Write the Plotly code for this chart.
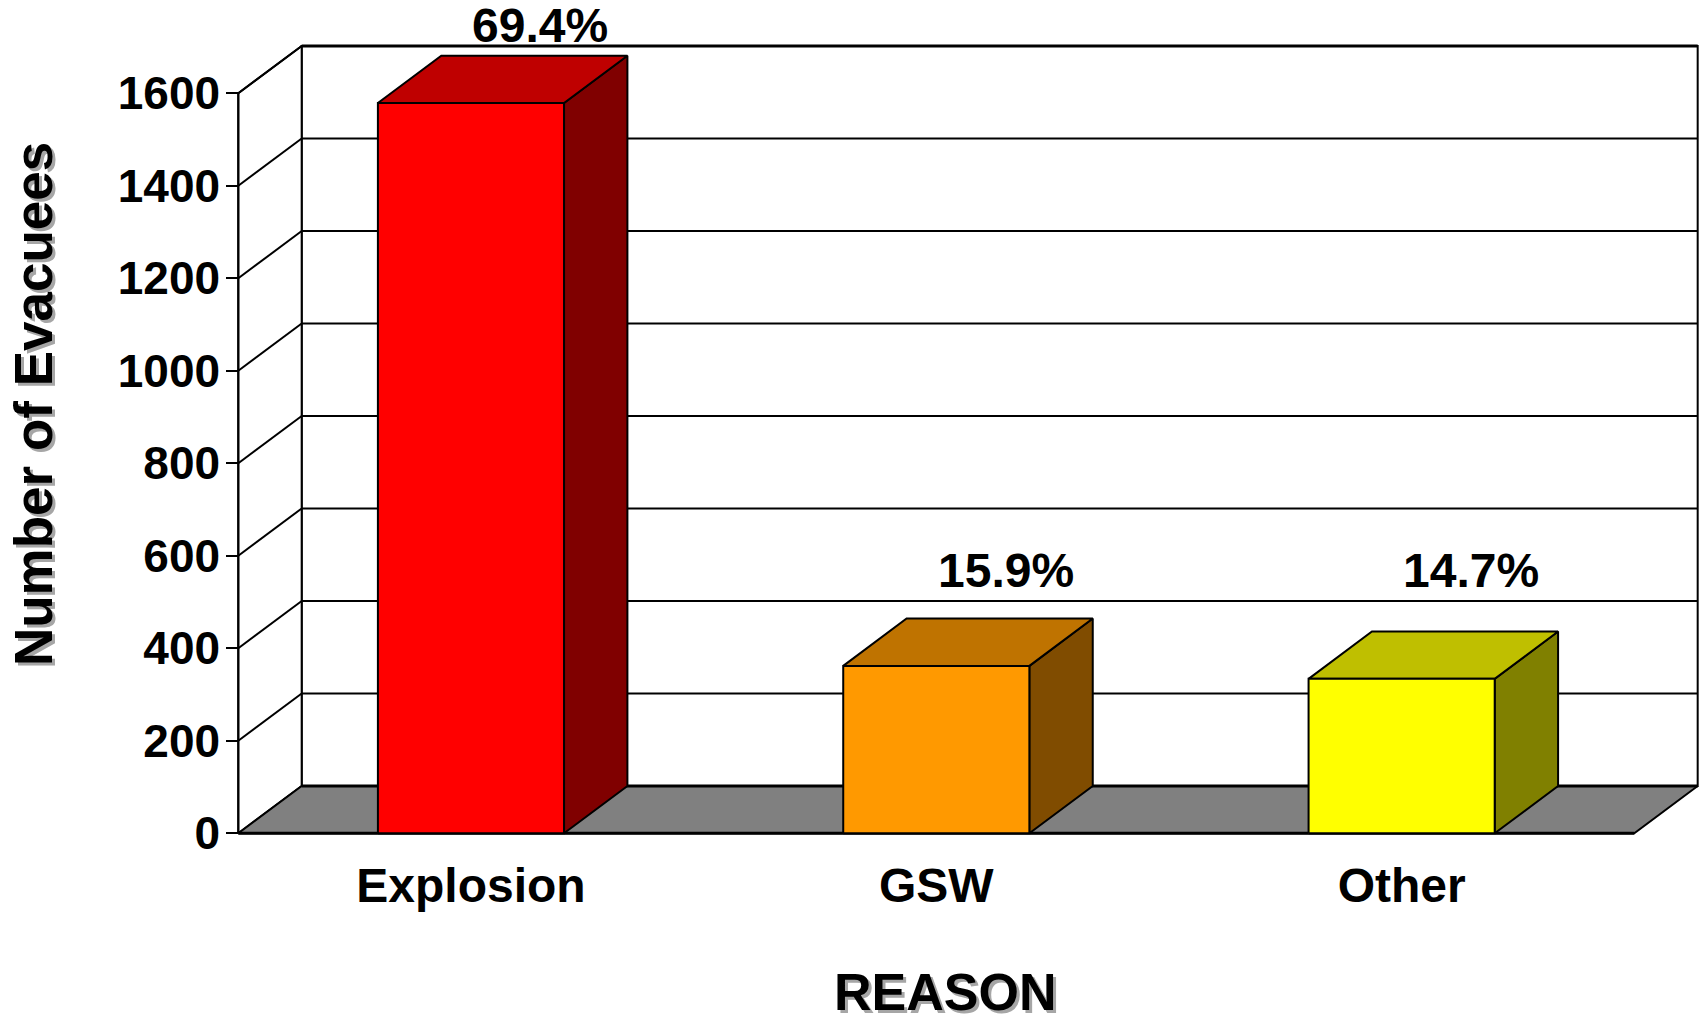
import plotly.graph_objects as go

# ---- data -------------------------------------------------------------
categories = ["Explosion", "GSW", "Other"]
evacuees = [1579, 362, 334]
y_tick_values = [0, 200, 400, 600, 800, 1000, 1200, 1400, 1600]
category_edges = [0, 1, 2, 3]

# ---- styling ----------------------------------------------------------
front_colors = ["#FF0000", "#FF9900", "#FFFF00"]
top_colors = ["#BF0000", "#BF7300", "#BFBF00"]
side_colors = ["#800000", "#804C00", "#808000"]
FLOOR_COLOR = "#808080"
FONT = "Liberation Sans, Arial, sans-serif"

Y_MAX = 1600          # top of the walls
BAR_WIDTH = 0.4       # fraction of a category slot
DEPTH_X = 0.1362      # oblique depth, in x units
DEPTH_Y = 102.3       # oblique depth, in y units
LABEL_FLOOR = 400     # short bars share a common label line

N = len(categories)

fig = go.Figure()


def polygon(xs, ys, fill, width=2, color="black"):
    fig.add_trace(go.Scatter(
        x=list(xs) + [xs[0]], y=list(ys) + [ys[0]],
        mode="lines", fill="toself", fillcolor=fill,
        line=dict(color=color, width=width),
        hoverinfo="skip", showlegend=False))


def segments(pairs, width=2, color="black"):
    xs, ys = [], []
    for (x0, y0), (x1, y1) in pairs:
        xs += [x0, x1, None]
        ys += [y0, y1, None]
    fig.add_trace(go.Scatter(
        x=xs, y=ys, mode="lines",
        line=dict(color=color, width=width),
        hoverinfo="skip", showlegend=False))


# ---- walls and floor ----------------------------------------------------
left, right = category_edges[0], category_edges[-1]

# back wall
polygon([left + DEPTH_X, right + DEPTH_X, right + DEPTH_X, left + DEPTH_X],
        [DEPTH_Y, DEPTH_Y, Y_MAX + DEPTH_Y, Y_MAX + DEPTH_Y], "white")
# side wall
polygon([left, left + DEPTH_X, left + DEPTH_X, left],
        [0, DEPTH_Y, Y_MAX + DEPTH_Y, Y_MAX], "white")
# floor
polygon([left, right, right + DEPTH_X, left + DEPTH_X],
        [0, 0, DEPTH_Y, DEPTH_Y], FLOOR_COLOR)

# gridlines on the back wall and their continuation across the side wall
grid = [v for v in y_tick_values if v > 0]
segments([((left + DEPTH_X, v + DEPTH_Y), (right + DEPTH_X, v + DEPTH_Y)) for v in grid])
segments([((left, v), (left + DEPTH_X, v + DEPTH_Y)) for v in grid])
# heavier top edge of the wall and back edge of the floor
segments([((left + DEPTH_X, Y_MAX + DEPTH_Y), (right + DEPTH_X, Y_MAX + DEPTH_Y)),
          ((left + DEPTH_X, DEPTH_Y), (right + DEPTH_X, DEPTH_Y))], width=3)
# front value axis and front floor edge
segments([((left, 0), (left, Y_MAX))], width=2)
segments([((left, 0), (right, 0))], width=3)

# ---- 3-D bars -------------------------------------------------------------
centers = [(category_edges[i] + category_edges[i + 1]) / 2 for i in range(N)]
for c, v, fc, tc, sc in zip(centers, evacuees, front_colors, top_colors, side_colors):
    x0, x1 = c - BAR_WIDTH / 2, c + BAR_WIDTH / 2
    # right side face
    polygon([x1, x1 + DEPTH_X, x1 + DEPTH_X, x1],
            [0, DEPTH_Y, v + DEPTH_Y, v], sc)
    # top face
    polygon([x0, x1, x1 + DEPTH_X, x0 + DEPTH_X],
            [v, v, v + DEPTH_Y, v + DEPTH_Y], tc)
    # front face
    polygon([x0, x1, x1, x0], [0, 0, v, v], fc)

# ---- percentage labels ------------------------------------------------------
total = sum(evacuees)
for c, v in zip(centers, evacuees):
    fig.add_annotation(
        x=c + DEPTH_X, y=max(v, LABEL_FLOOR) + DEPTH_Y,
        xref="x", yref="y", text=f"{v / total * 100:.1f}%",
        showarrow=False, xanchor="center", yanchor="middle",
        xshift=6, yshift=30,
        font=dict(family=FONT, size=48, color="black", weight="bold"))

# ---- titles -------------------------------------------------------------------
fig.add_annotation(
    x=-0.1113, y=0.5409, xref="paper", yref="paper",
    text="Number of Evacuees", textangle=-90, showarrow=False,
    xanchor="center", yanchor="middle",
    font=dict(family=FONT, size=53, color="black", weight="bold",
              shadow="-3px 3px 0px #A6A6A6"))
fig.add_annotation(
    x=0.4967, y=-0.127, xref="paper", yref="paper",
    text="REASON", showarrow=False, xanchor="center", yanchor="middle",
    font=dict(family=FONT, size=52, color="black", weight="bold",
              shadow="3px 3px 0px #A6A6A6"))

# ---- axes ------------------------------------------------------------------------
PLOT_L, PLOT_R, PLOT_T, PLOT_B = 200, 1700, 0, 880
X0_PX, Y0_PX = 238.3, 833.3
PX_PER_X = 1396 / 3
PX_PER_Y = 92.5 / 200

x_range = [-(X0_PX - PLOT_L) / PX_PER_X, (PLOT_R - X0_PX) / PX_PER_X]
y_range = [-(PLOT_B - Y0_PX) / PX_PER_Y, (Y0_PX - PLOT_T) / PX_PER_Y]
x_axis_pos = (PLOT_B - Y0_PX) / (PLOT_B - PLOT_T)
y_axis_pos = (X0_PX - PLOT_L) / (PLOT_R - PLOT_L)

common = dict(showgrid=False, zeroline=False, showline=False, fixedrange=True)

fig.update_layout(
    width=1700, height=1026,
    margin=dict(l=PLOT_L, r=1700 - PLOT_R, t=PLOT_T, b=1026 - PLOT_B),
    paper_bgcolor="white", plot_bgcolor="white",
    showlegend=False,
    xaxis=dict(range=x_range, anchor="free", position=x_axis_pos,
               tickmode="array", tickvals=centers, ticktext=categories,
               ticks="", ticklabelstandoff=20,
               tickfont=dict(family=FONT, size=48, color="black", weight="bold"),
               **common),
    xaxis2=dict(range=x_range, overlaying="x", anchor="free", position=x_axis_pos,
                side="bottom", tickmode="array", tickvals=category_edges,
                ticks="outside", ticklen=13, tickwidth=2, tickcolor="black",
                showticklabels=False, **common),
    yaxis=dict(range=y_range, anchor="free", position=y_axis_pos,
               tickmode="array", tickvals=y_tick_values,
               ticks="outside", ticklen=12, tickwidth=2, tickcolor="black",
               ticklabelstandoff=-3,
               tickfont=dict(family=FONT, size=46, color="black", weight="bold"),
               **common),
)

fig.write_html("out.html", config={"displayModeBar": False})
